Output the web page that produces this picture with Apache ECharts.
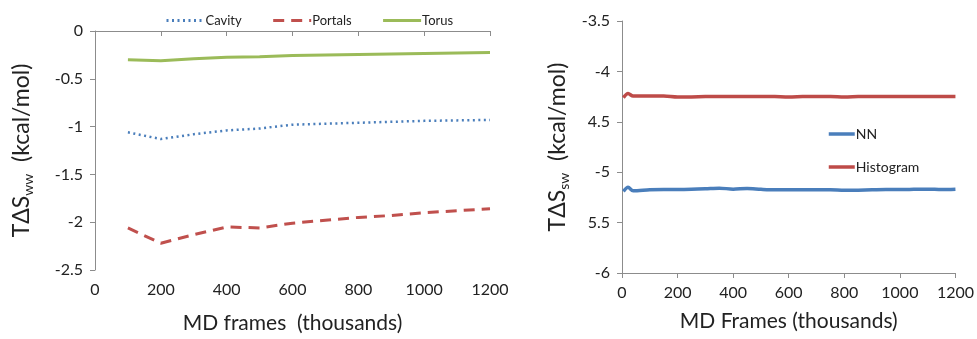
<!DOCTYPE html>
<html>
<head>
<meta charset="utf-8">
<script src="https://cdn.jsdelivr.net/npm/echarts@6/dist/echarts.min.js"></script>
<style>
  html, body { margin: 0; padding: 0; background: #fff; }
  #main { width: 977px; height: 339px; }
</style>
</head>
<body>
<div id="main"></div>
<script>
// left panel: water-water entropy vs MD frames
var framesL = [100, 200, 300, 400, 500, 600, 700, 800, 900, 1000, 1100, 1200];
var cavity  = [-1.06, -1.13, -1.08, -1.04, -1.02, -0.98, -0.97, -0.96, -0.95, -0.94, -0.935, -0.93];
var portals = [-2.06, -2.22, -2.13, -2.05, -2.06, -2.01, -1.98, -1.95, -1.93, -1.90, -1.88, -1.86];
var torus   = [-0.30, -0.31, -0.29, -0.275, -0.27, -0.255, -0.25, -0.245, -0.24, -0.235, -0.23, -0.225];

// right panel: solute-water entropy
var framesR   = [5, 22, 40, 100, 150, 200, 250, 300, 350, 400, 450, 500, 550, 600, 650, 700, 750, 800, 850, 900, 950, 1000, 1050, 1100, 1150, 1200];
var nn        = [-5.19, -5.15, -5.185, -5.175, -5.172, -5.172, -5.17, -5.165, -5.158, -5.168, -5.162, -5.17, -5.175, -5.175, -5.175, -5.175, -5.175, -5.18, -5.178, -5.175, -5.172, -5.172, -5.17, -5.168, -5.172, -5.168];
var histogram = [-4.26, -4.22, -4.245, -4.245, -4.245, -4.255, -4.253, -4.25, -4.248, -4.248, -4.248, -4.248, -4.25, -4.255, -4.25, -4.248, -4.248, -4.255, -4.25, -4.248, -4.248, -4.248, -4.248, -4.248, -4.248, -4.248];

var yTicksR = {'-3.5': '-3.5', '-4': '-4', '-4.5': '4.5', '-5': '-5', '-5.5': '5.5', '-6': '-6'};

function pairs(xs, ys) {
  return xs.map(function (x, i) { return [x, ys[i]]; });
}

var FONT = 'Lato';
var axisCol = '#8c8c8c';
var txtCol = '#222';

function xAxisCfg(idx, name) {
  return {
    gridIndex: idx, type: 'value', min: 0, max: 1200, interval: 200,
    name: name, nameLocation: 'middle', nameGap: idx === 0 ? 43 : 38,
    nameTextStyle: { fontFamily: FONT, fontSize: 21, color: txtCol },
    axisLine: { show: true, lineStyle: { color: axisCol } },
    axisTick: { show: true, inside: false, length: 5, lineStyle: { color: axisCol } },
    axisLabel: { fontFamily: FONT, fontSize: 16, color: txtCol, margin: 12, formatter: function (v) { return String(v); } },
    splitLine: { show: false }
  };
}

function yAxisCfg(idx, min, max, sub, fmt) {
  return {
    gridIndex: idx, type: 'value', min: min, max: max, interval: 0.5,
    name: '{a|TΔS}{s|' + sub + '}{a|  (kcal/mol)}',
    nameLocation: 'middle', nameGap: idx === 0 ? 60 : 51,
    nameTextStyle: {
      rich: {
        a: { fontFamily: FONT, fontSize: 23, color: txtCol },
        s: { fontFamily: FONT, fontSize: 14, color: txtCol, verticalAlign: 'bottom', padding: [12, 0, 0, 0] }
      }
    },
    axisLine: { show: true, lineStyle: { color: axisCol } },
    axisTick: { show: true, inside: false, length: 5, lineStyle: { color: axisCol } },
    axisLabel: { fontFamily: FONT, fontSize: 16, color: txtCol, margin: 12, formatter: fmt },
    splitLine: { show: false }
  };
}

var chart = echarts.init(document.getElementById('main'));
chart.setOption({
  backgroundColor: '#fff',
  animation: false,
  grid: [
    { left: 95, top: 31, width: 395, height: 242 },
    { left: 622, top: 21, width: 334, height: 252 }
  ],
  legend: [
    {
      data: ['Cavity', 'Portals', 'Torus'],
      left: 160, top: 9, itemWidth: 38, itemHeight: 12, itemGap: 30,
      itemStyle: { opacity: 0 },
      lineStyle: { width: 3 },
      textStyle: { fontFamily: FONT, fontSize: 13, color: txtCol, padding: [0, 0, 0, -4] }
    },
    {
      data: ['NN', 'Histogram'],
      orient: 'vertical', left: 822, top: 122, itemWidth: 26, itemHeight: 12, itemGap: 19,
      itemStyle: { opacity: 0 },
      lineStyle: { width: 3.5 },
      textStyle: { fontFamily: FONT, fontSize: 14, color: txtCol, padding: [0, 0, 0, -4] }
    }
  ],
  xAxis: [
    xAxisCfg(0, 'MD frames  (thousands)'),
    xAxisCfg(1, 'MD Frames (thousands)')
  ],
  yAxis: [
    yAxisCfg(0, -2.5, 0, 'ww', null),
    yAxisCfg(1, -6, -3.5, 'sw', function (v) { return yTicksR[String(v)] || String(v); })
  ],
  series: [
    {
      name: 'Cavity', type: 'line', xAxisIndex: 0, yAxisIndex: 0,
      data: pairs(framesL, cavity), showSymbol: false, symbol: 'none', smooth: false,
      lineStyle: { color: '#4a7ebb', width: 2.5, type: [2, 3.5] },
      itemStyle: { color: '#4a7ebb' }
    },
    {
      name: 'Portals', type: 'line', xAxisIndex: 0, yAxisIndex: 0,
      data: pairs(framesL, portals), showSymbol: false, symbol: 'none',
      lineStyle: { color: '#c0504d', width: 3, type: [11, 7] },
      itemStyle: { color: '#c0504d' }
    },
    {
      name: 'Torus', type: 'line', xAxisIndex: 0, yAxisIndex: 0,
      data: pairs(framesL, torus), showSymbol: false, symbol: 'none',
      lineStyle: { color: '#9bbb59', width: 3 },
      itemStyle: { color: '#9bbb59' }
    },
    {
      name: 'NN', type: 'line', xAxisIndex: 1, yAxisIndex: 1,
      data: pairs(framesR, nn), showSymbol: false, symbol: 'none', smooth: 0.3,
      lineStyle: { color: '#4a7ebb', width: 3.5 },
      itemStyle: { color: '#4a7ebb' }
    },
    {
      name: 'Histogram', type: 'line', xAxisIndex: 1, yAxisIndex: 1,
      data: pairs(framesR, histogram), showSymbol: false, symbol: 'none', smooth: 0.3,
      lineStyle: { color: '#be4b48', width: 3.5 },
      itemStyle: { color: '#be4b48' }
    }
  ]
});
</script>
</body>
</html>
